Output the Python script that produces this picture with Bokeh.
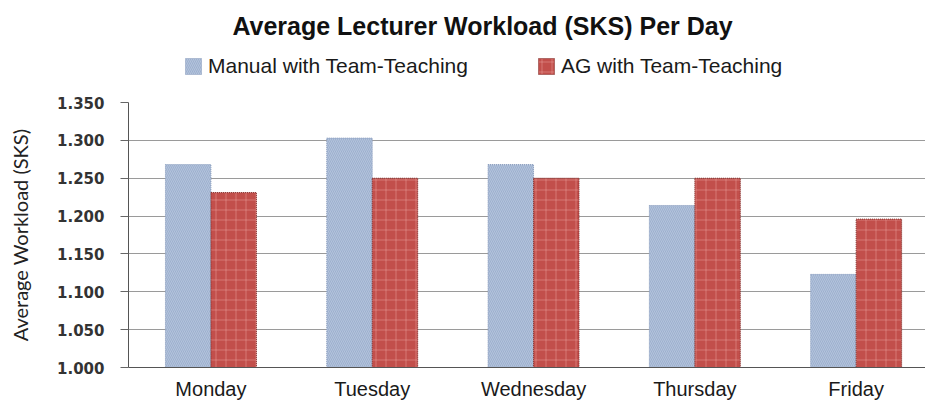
from bokeh.plotting import figure
from bokeh.layouts import column
from bokeh.models import (Range1d, FixedTicker, Legend, LegendItem, ColumnDataSource,
                          NumeralTickFormatter, Label)
from bokeh.embed import file_html
from bokeh.resources import INLINE

days = ["Monday", "Tuesday", "Wednesday", "Thursday", "Friday"]
manual = [1.268, 1.303, 1.268, 1.214, 1.123]
ag = [1.231, 1.250, 1.250, 1.250, 1.196]
y_ticks = [1.000, 1.050, 1.100, 1.150, 1.200, 1.250, 1.300, 1.350]
series_names = ["Manual with Team-Teaching", "AG with Team-Teaching"]
title_text = "Average Lecturer Workload (SKS) Per Day"

centers = [i + 0.5 for i in range(len(days))]
bw = 0.282
src = ColumnDataSource(dict(
    xm=[c - bw / 2 for c in centers],
    xa=[c + bw / 2 for c in centers],
    manual=manual, ag=ag,
))

manual_style = dict(fill_color="#b3c3dc", line_color="#8a9dbd", line_dash="1 1",
                    hatch_pattern="left_diagonal_line", hatch_color="#889dc0",
                    hatch_alpha=0.5, hatch_scale=4, hatch_weight=1)
ag_style = dict(fill_color="#c24f4b", line_color="#7d2a27", line_dash="1 1",
                hatch_pattern="cross", hatch_color="#f2b3ad",
                hatch_alpha=0.4, hatch_scale=10, hatch_weight=1)

# ---------- header: title + legend ----------
h = figure(width=925, height=84, output_backend="svg", toolbar_location=None,
           x_range=Range1d(0, 1), y_range=Range1d(10, 11),
           min_border_left=128, min_border_right=0, min_border_top=0, min_border_bottom=0)
h.axis.visible = False
h.grid.visible = False
h.outline_line_color = None
# legend proxies (their bars lie outside the header's visible range)
d1 = h.vbar(x="xm", top="manual", width=bw, source=src, **manual_style)
d2 = h.vbar(x="xa", top="ag", width=bw, source=src, **ag_style)

h.add_layout(Label(x=354, y=59, x_units="screen", y_units="screen", text=title_text,
                   text_font="Liberation Sans", text_font_size="25px",
                   text_font_style="bold", text_color="#111111",
                   text_align="center", text_baseline="middle"))

legend = Legend(items=[LegendItem(label=series_names[0], renderers=[d1]),
                       LegendItem(label=series_names[1], renderers=[d2])],
                orientation="horizontal", location=(55, 6),
                label_text_font="Liberation Sans", label_text_font_size="21px",
                label_text_color="#1a1a1a", glyph_width=20, glyph_height=20,
                spacing=68, label_standoff=5, border_line_color=None,
                background_fill_alpha=0, padding=5, margin=0)
h.add_layout(legend, "center")

# ---------- main chart ----------
p = figure(width=925, height=318, output_backend="svg", toolbar_location=None,
           x_range=Range1d(-0.011, 4.93), y_range=Range1d(1.0, 1.35),
           min_border_left=128, min_border_right=0, min_border_bottom=10,
           min_border_top=18)
p.outline_line_color = None
p.background_fill_color = "white"

p.vbar(x="xm", top="manual", bottom=1.0, width=bw, source=src, **manual_style)
p.vbar(x="xa", top="ag", bottom=1.0, width=bw, source=src, **ag_style)

p.xgrid.grid_line_color = None
p.ygrid.grid_line_color = "#9a9a9a"
p.ygrid.grid_line_width = 1
p.ygrid.ticker = FixedTicker(ticks=y_ticks)

ya = p.yaxis[0]
ya.ticker = FixedTicker(ticks=y_ticks)
ya.formatter = NumeralTickFormatter(format="0.000")
ya.axis_label = "Average Workload (SKS)"
ya.axis_label_text_font = "Lato"
ya.axis_label_text_font_style = "normal"
ya.axis_label_text_font_size = "20px"
ya.axis_label_text_color = "#222222"
ya.axis_label_standoff = 22
ya.major_label_text_font = "DejaVu Sans"
ya.major_label_text_font_style = "bold"
ya.major_label_text_font_size = "15px"
ya.major_label_text_color = "#333333"
ya.major_label_standoff = 16
ya.major_tick_in = 0
ya.major_tick_out = 8
ya.major_tick_line_color = "#666666"
ya.minor_tick_line_color = None
ya.axis_line_color = "#555555"

xa = p.xaxis[0]
xa.ticker = FixedTicker(ticks=centers)
xa.major_label_overrides = {c: d for c, d in zip(centers, days)}
xa.major_label_text_font = "Liberation Sans"
xa.major_label_text_font_size = "20px"
xa.major_label_text_color = "#1a1a1a"
xa.major_label_standoff = 10
xa.major_tick_in = 0
xa.major_tick_out = 0
xa.major_tick_line_color = None
xa.minor_tick_line_color = None
xa.axis_line_color = "#555555"

layout = column(h, p, spacing=0)
open("out.html", "w").write(file_html(layout, INLINE))
